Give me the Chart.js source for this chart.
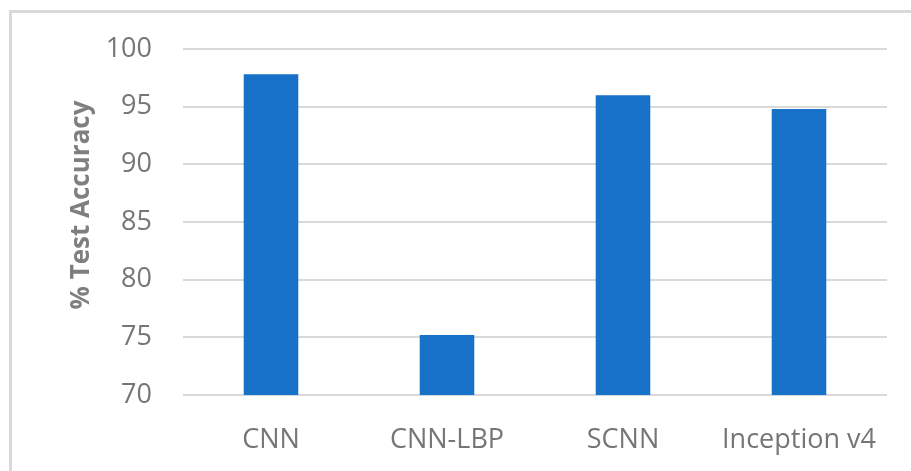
<!DOCTYPE html>
<html>
<head>
<meta charset="utf-8">
<script src="https://cdn.jsdelivr.net/npm/chart.js@4.4.1/dist/chart.umd.min.js"></script>
<style>
  html, body { margin: 0; padding: 0; background: #fff; overflow: hidden; }
  #frame {
    position: absolute; left: 9px; top: 10px; width: 1000px; height: 1000px;
    border-left: 3px solid #d9d9d9; border-top: 3px solid #d9d9d9;
  }
  #accChart { position: absolute; left: 0; top: 0; }
</style>
</head>
<body>
<div id="frame"></div>
<canvas id="accChart" width="911" height="471"></canvas>
<script>
// Models and their test accuracy (%)
const models = ["CNN", "CNN-LBP", "SCNN", "Inception v4"];
const accuracy = [97.8, 75.2, 96.0, 94.8];
const yMin = 70;
const yMax = 100;
const yStep = 5;
const yTitle = "% Test Accuracy";

const tickColor = "#767676";
const tickFont = { family: "'Open Sans', 'Noto Sans', sans-serif", size: 27 };

// Rotated axis title, centred a little above the plot's middle
const yTitlePlugin = {
    id: "yTitle",
    afterDraw(chart) {
        const ctx = chart.ctx;
        const area = chart.chartArea;
        ctx.save();
        ctx.translate(82, (area.top + area.bottom) / 2 - 17);
        ctx.rotate(-Math.PI / 2);
        ctx.font = "bold 26px 'Open Sans', 'Noto Sans', sans-serif";
        ctx.fillStyle = "#7f7f7f";
        ctx.textAlign = "center";
        ctx.textBaseline = "middle";
        ctx.fillText(yTitle, 0, 0);
        ctx.restore();
    }
};

const ctx = document.getElementById("accChart").getContext("2d");

new Chart(ctx, {
    type: "bar",
    data: {
        labels: models,
        datasets: [{
            data: accuracy,
            backgroundColor: "#1771c8",
            barPercentage: 1,
            categoryPercentage: 0.31
        }]
    },
    options: {
        responsive: false,
        animation: false,
        layout: { padding: { top: 49, right: 24, bottom: 0, left: 0 } },
        plugins: {
            legend: { display: false },
            tooltip: { enabled: false }
        },
        scales: {
            x: {
                grid: { display: false },
                border: { display: false },
                ticks: { color: tickColor, font: tickFont, padding: 21, maxRotation: 0 },
                afterFit: (scale) => { scale.height = 76; }
            },
            y: {
                min: yMin,
                max: yMax,
                grid: { color: "#d9d9d9", lineWidth: 2, drawTicks: false },
                border: { display: false },
                ticks: { stepSize: yStep, color: tickColor, font: tickFont, padding: 31 },
                afterFit: (scale) => { scale.width = 183; }
            }
        }
    },
    plugins: [yTitlePlugin]
});
</script>
</body>
</html>
